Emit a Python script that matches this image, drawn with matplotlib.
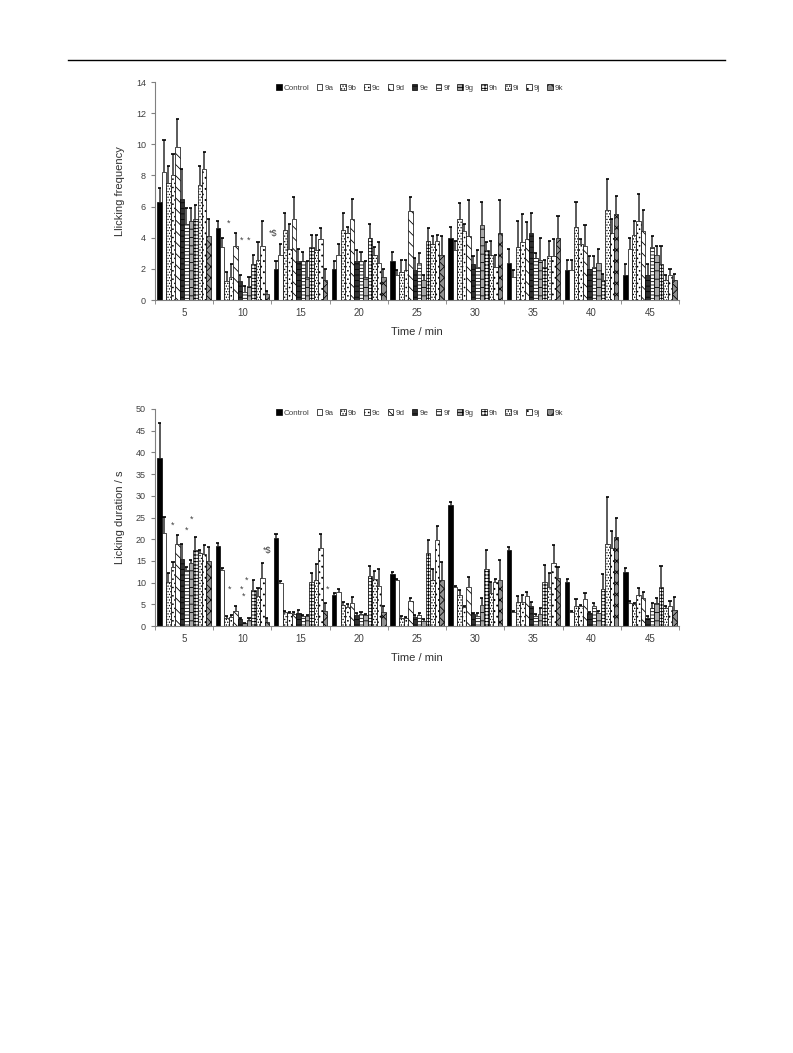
import numpy as np
import matplotlib
matplotlib.use("Agg")
import matplotlib.pyplot as plt
from matplotlib.lines import Line2D

plt.rcParams['font.family'] = ['Liberation Sans', 'DejaVu Sans']
plt.rcParams['hatch.linewidth'] = 0.6

times = [5, 10, 15, 20, 25, 30, 35, 40, 45]
groups = ['Control', '9a', '9b', '9c', '9d', '9e', '9f', '9g', '9h', '9i', '9j', '9k']

# licking frequency (rows = groups, cols = times)
freq_mean = [
    [6.3, 4.6, 2.0, 2.0, 2.5, 4.0, 2.4, 1.9, 1.6],
    [8.2, 3.4, 2.9, 2.9, 1.6, 3.2, 1.5, 1.9, 3.3],
    [7.5, 1.2, 4.5, 4.5, 1.8, 5.2, 3.4, 4.7, 4.2],
    [8.0, 1.5, 3.3, 4.3, 1.9, 4.4, 3.7, 3.6, 5.1],
    [9.8, 3.5, 5.2, 5.2, 5.7, 4.1, 3.9, 3.5, 4.4],
    [6.5, 1.2, 2.5, 2.5, 1.9, 2.3, 4.3, 2.0, 1.6],
    [4.9, 0.5, 2.5, 2.5, 2.4, 2.1, 2.7, 2.1, 3.4],
    [5.1, 0.9, 1.5, 1.5, 1.3, 4.8, 2.6, 2.4, 2.9],
    [5.2, 2.3, 3.4, 4.0, 3.8, 3.2, 2.1, 1.3, 2.3],
    [7.4, 2.6, 3.2, 2.9, 3.6, 2.9, 2.8, 5.8, 1.3],
    [8.4, 3.5, 3.9, 2.4, 3.8, 2.1, 2.8, 4.3, 1.6],
    [4.1, 0.4, 1.3, 1.5, 2.9, 4.3, 4.0, 5.5, 1.3],
]
freq_err = [
    [0.9, 0.5, 0.5, 0.5, 0.6, 0.7, 0.9, 0.7, 0.7],
    [2.1, 0.6, 0.7, 0.7, 0.3, 0.6, 0.4, 0.7, 0.7],
    [1.1, 0.6, 1.1, 1.1, 0.8, 1.0, 1.7, 1.6, 0.9],
    [1.4, 0.8, 1.6, 0.4, 0.7, 0.5, 1.8, 0.3, 1.7],
    [1.8, 0.8, 1.4, 1.3, 0.9, 2.3, 1.1, 1.3, 1.4],
    [1.9, 0.4, 0.8, 0.7, 0.8, 0.5, 1.3, 0.8, 0.7],
    [1.0, 0.4, 0.6, 0.6, 0.6, 1.1, 0.3, 0.7, 0.7],
    [0.8, 0.6, 1.0, 1.0, 0.3, 1.5, 1.4, 0.9, 0.6],
    [0.9, 0.6, 0.8, 0.9, 0.8, 0.5, 0.5, 0.4, 1.2],
    [1.2, 1.1, 1.0, 0.5, 0.5, 0.9, 1.0, 2.0, 0.3],
    [1.1, 1.6, 0.7, 1.3, 0.4, 0.8, 1.1, 0.9, 0.4],
    [1.1, 0.2, 0.7, 0.5, 1.2, 2.1, 1.4, 1.2, 0.4],
]

# licking duration (s)
dur_mean = [
    [38.8, 18.5, 20.2, 7.2, 12.0, 27.9, 17.5, 10.2, 12.5],
    [21.4, 13.0, 9.8, 7.9, 10.6, 8.9, 3.3, 3.3, 5.4],
    [10.2, 1.8, 3.2, 4.8, 1.8, 7.2, 5.6, 4.5, 5.1],
    [13.7, 2.0, 2.9, 4.3, 1.8, 4.3, 5.6, 4.5, 7.2],
    [18.9, 3.5, 2.8, 5.2, 5.8, 9.1, 6.8, 6.2, 6.5],
    [15.4, 1.5, 3.1, 2.5, 2.0, 2.8, 4.6, 2.9, 1.8],
    [12.8, 0.6, 2.2, 2.8, 2.5, 2.2, 2.2, 4.5, 4.1],
    [14.5, 1.4, 2.2, 2.5, 1.2, 4.8, 2.8, 2.9, 5.4],
    [17.5, 8.2, 10.2, 11.6, 16.9, 13.1, 10.2, 8.5, 9.1],
    [16.8, 6.8, 10.6, 10.9, 10.5, 7.5, 9.1, 18.9, 4.1],
    [16.6, 11.0, 17.9, 9.2, 19.8, 10.2, 14.5, 17.9, 4.5],
    [15.0, 1.0, 3.5, 3.2, 10.6, 10.6, 11.0, 20.4, 3.8],
]
dur_err = [
    [8.0, 0.6, 1.0, 0.5, 0.5, 0.6, 0.7, 0.6, 0.8],
    [3.7, 0.3, 0.5, 0.6, 0.3, 0.3, 0.2, 0.2, 0.3],
    [2.0, 0.4, 0.2, 0.7, 0.5, 1.1, 1.3, 1.7, 0.3],
    [1.0, 0.5, 0.3, 0.8, 0.3, 0.3, 1.6, 0.4, 1.6],
    [2.1, 1.0, 0.5, 1.4, 0.7, 2.1, 1.1, 1.3, 1.4],
    [3.5, 0.3, 0.6, 0.4, 0.5, 0.3, 1.0, 0.4, 0.4],
    [0.9, 0.2, 0.3, 0.4, 0.4, 0.9, 0.5, 0.7, 1.1],
    [0.7, 0.4, 0.3, 0.3, 0.4, 1.6, 1.3, 0.5, 1.0],
    [2.9, 2.4, 2.0, 2.3, 2.9, 4.4, 3.9, 3.5, 4.8],
    [0.7, 1.9, 3.7, 1.7, 2.6, 2.6, 3.1, 10.8, 0.4],
    [2.1, 3.5, 3.3, 3.9, 3.3, 0.6, 4.2, 3.9, 1.3],
    [3.3, 0.8, 1.7, 1.5, 4.1, 4.5, 2.7, 4.6, 2.8],
]

# fill colour and hatch per group (greyscale Excel style)
faces = ['black', 'white', 'white', 'white', 'white', '#303030',
         'white', '#a8a8a8', 'white', 'white', 'white', '#909090']
hatches = ['', '', '......', '....', '\\\\\\', '---',
           '-----', '++', '+++++', '......', '...', 'xxx']

fig = plt.figure(figsize=(7.93, 10.53), dpi=100)
fig.add_artist(Line2D([68/793, 725/793], [1-60/1053, 1-60/1053], color='black', lw=1))


def draw_chart(ax, means, errs, ymax, ystep, ylabel, stars, legend_y):
    n = len(groups)
    x = np.arange(len(times))
    w = 0.92 / n
    for k in range(n):
        xs = x + (k - (n - 1) / 2) * w
        m = np.array(means[k])
        e = np.array(errs[k])
        ax.bar(xs, m, w, color=faces[k], hatch=hatches[k], edgecolor='black',
               linewidth=0.5, label=groups[k], zorder=2)
        ax.vlines(xs, m, m + e, color='#5a5a5a', lw=1.4, zorder=3)
        ax.hlines(m + e, xs - w * 0.35, xs + w * 0.35, color='black', lw=1.2, zorder=4)
    ax.set_xlim(-0.5, len(times) - 0.5)
    ax.set_ylim(0, ymax)
    ax.set_yticks(np.arange(0, ymax + 0.1, ystep))
    ax.set_xticks(x)
    ax.set_xticklabels([str(t) for t in times])
    ax.set_xticks(np.arange(-0.5, len(times)), minor=True)
    ax.tick_params(axis='x', which='major', length=0, pad=6, labelsize=7, colors='#404040')
    ax.tick_params(axis='x', which='minor', length=3, direction='out', color='#808080')
    ax.tick_params(axis='y', length=3, direction='out', labelsize=6.5,
                   colors='#404040', color='#808080')
    for s in ['top', 'right']:
        ax.spines[s].set_visible(False)
    for s in ['left', 'bottom']:
        ax.spines[s].set_color('#808080')
        ax.spines[s].set_linewidth(0.8)
    ax.set_ylabel(ylabel, fontsize=8, color='#303030', labelpad=8)
    ax.set_xlabel('Time / min', fontsize=8, color='#303030', labelpad=6)
    for txt, sx, sy in stars:
        ax.text(sx, sy, txt, fontsize=6.5, color='#404040', ha='center', va='center')
    ax.legend(loc='center', bbox_to_anchor=(0.505, legend_y), ncol=n, frameon=False,
              fontsize=5.8, handlelength=0.7, handleheight=0.7, handletextpad=0.25,
              columnspacing=0.9, labelcolor='#404040', borderpad=0)


ax1 = fig.add_axes([155/793, 1-300/1053, 524/793, 218/1053])
draw_chart(ax1, freq_mean, freq_err, 14, 2, 'Llicking frequency',
           [('*', 0.76, 4.95), ('*', 0.99, 3.85), ('*', 1.10, 3.85), ('*$', 1.53, 4.3)],
           0.972)

ax2 = fig.add_axes([155/793, 1-626/1053, 524/793, 217/1053])
draw_chart(ax2, dur_mean, dur_err, 50, 5, 'Licking duration / s',
           [('*', -0.2, 23.3), ('*', 0.12, 24.7), ('*', 0.05, 22.1),
            ('*', 0.78, 8.5), ('*', 0.99, 8.5), ('*', 1.03, 6.8), ('*', 1.08, 10.6),
            ('*$', 1.42, 17.5), ('*', 2.47, 8.5)],
           0.982)

plt.savefig('out.png', dpi=100)
